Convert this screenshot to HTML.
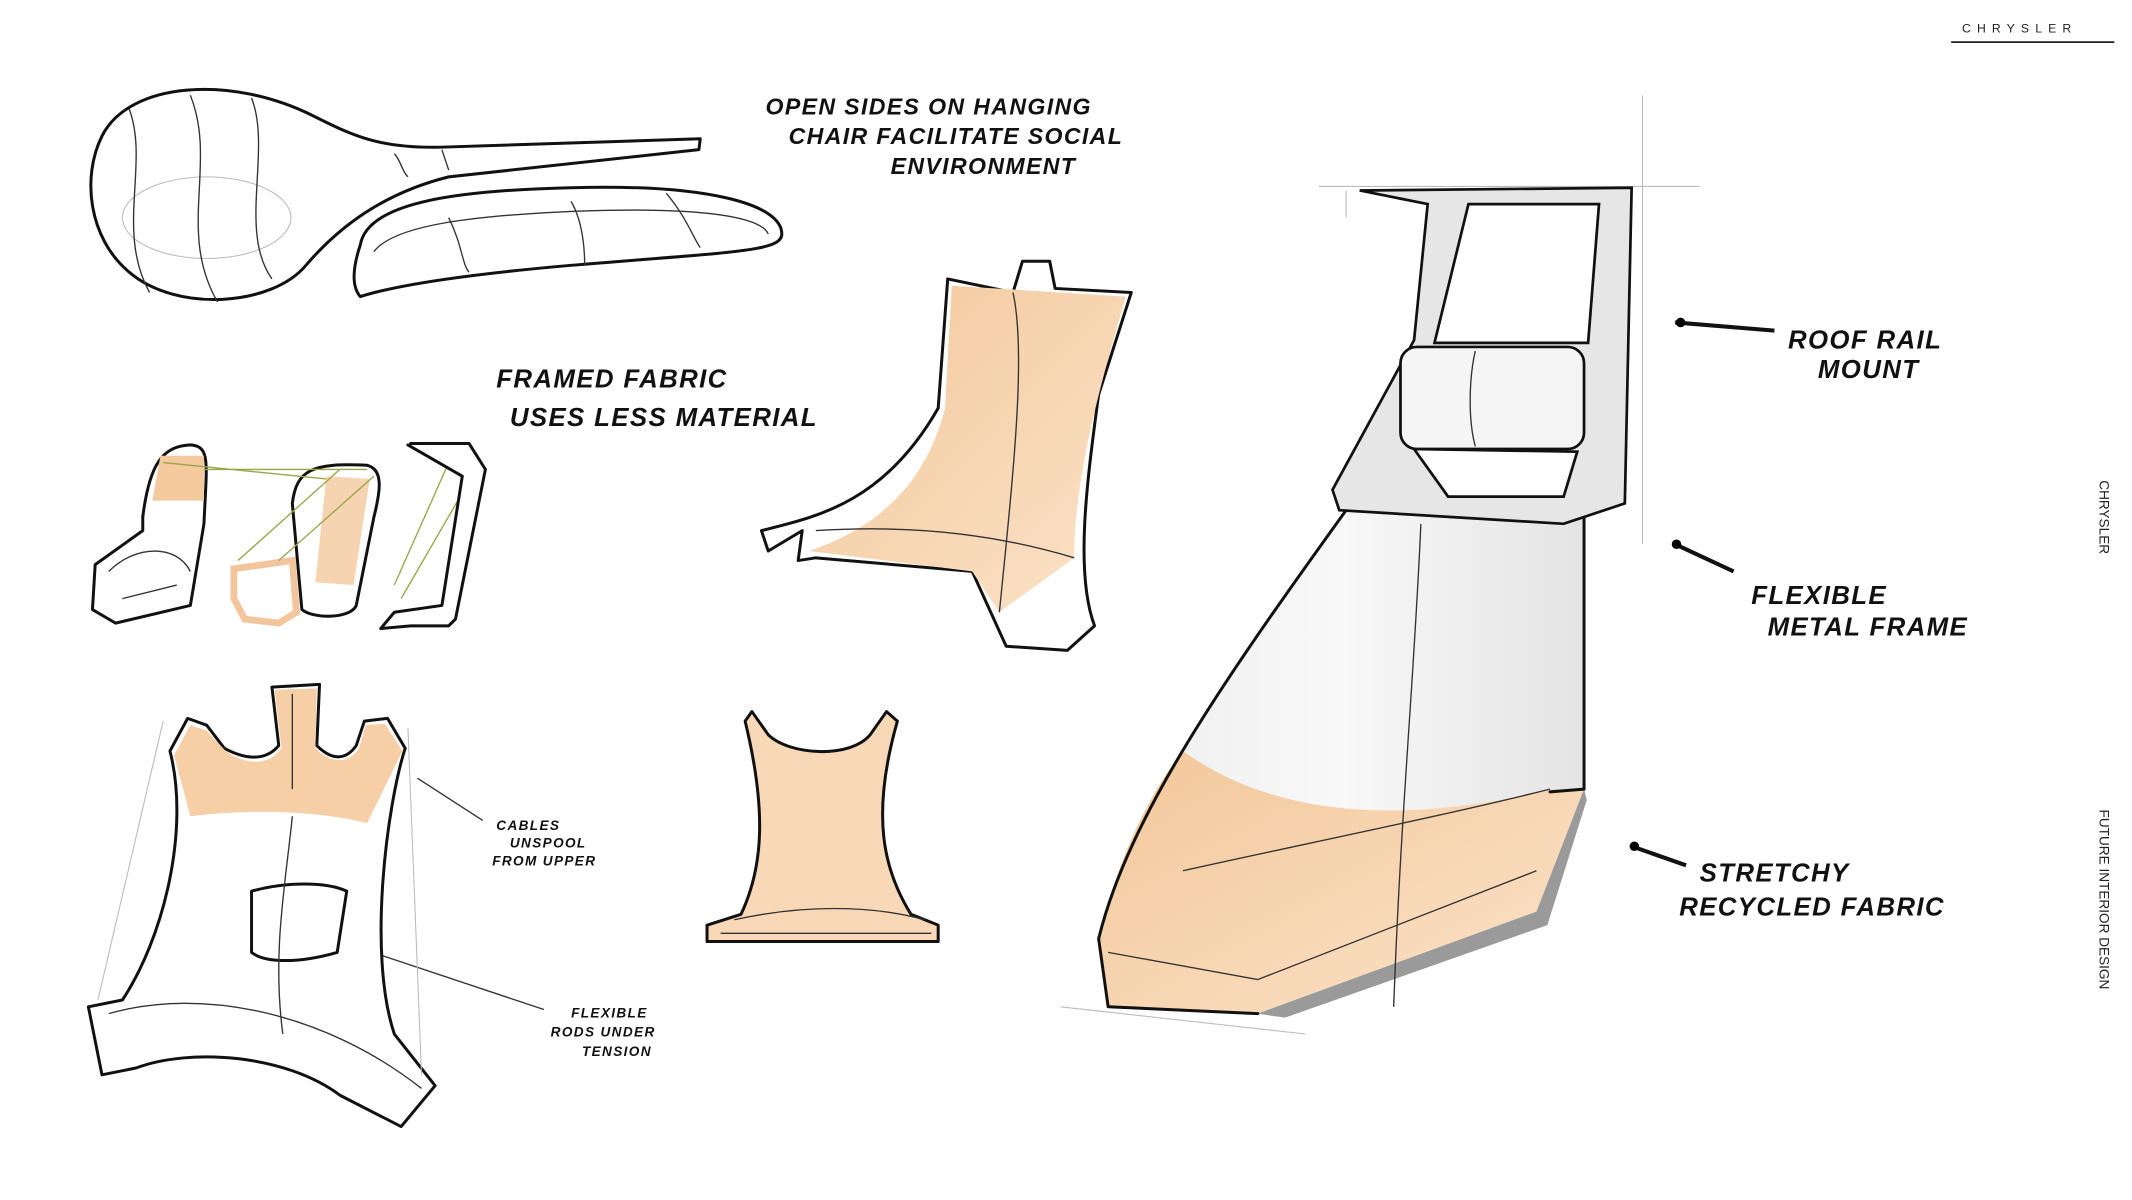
<!DOCTYPE html>
<html><head><meta charset="utf-8"><style>
html,body{margin:0;padding:0;background:#fff;width:2132px;height:1200px;overflow:hidden}
svg{display:block}
.h{font-family:"Liberation Sans",sans-serif;font-weight:bold;font-style:italic;fill:#111;letter-spacing:1px}
.s{stroke:#111;stroke-width:2.2;stroke-linejoin:round;stroke-linecap:round}
.t{fill:none;stroke:#333;stroke-width:1}
.g{fill:none;stroke:#bbb;stroke-width:0.8}
</style></head><body>
<svg width="2132" height="1200" viewBox="0 0 1568 882" preserveAspectRatio="none">
<defs>
<linearGradient id="og" x1="0" y1="0" x2="1" y2="1"><stop offset="0" stop-color="#f3c79a"/><stop offset="1" stop-color="#fbe3c9"/></linearGradient>
<linearGradient id="wg" x1="0" y1="0" x2="1" y2="0"><stop offset="0" stop-color="#eeeeee"/><stop offset="0.5" stop-color="#f8f8f8"/><stop offset="1" stop-color="#e4e4e4"/></linearGradient>
</defs>
<text x="1443" y="24" font-family="Liberation Sans" font-size="9" letter-spacing="4.5" fill="#222">CHRYSLER</text>
<line x1="1435" y1="31" x2="1555" y2="31" stroke="#222" stroke-width="1.3"/>
<text transform="translate(1544,353) rotate(90)" font-family="Liberation Sans" font-size="10" fill="#222">CHRYSLER</text>
<text transform="translate(1544,595) rotate(90)" font-family="Liberation Sans" font-size="10" fill="#222">FUTURE INTERIOR DESIGN</text>

<text class="h" x="563" y="84" font-size="17">OPEN SIDES ON HANGING</text>
<text class="h" x="580" y="106" font-size="17">CHAIR FACILITATE SOCIAL</text>
<text class="h" x="655" y="128" font-size="17">ENVIRONMENT</text>
<text class="h" x="365" y="285" font-size="19">FRAMED FABRIC</text>
<text class="h" x="375" y="313" font-size="19">USES LESS MATERIAL</text>
<text class="h" x="1315" y="256" font-size="19">ROOF RAIL</text>
<text class="h" x="1337" y="278" font-size="19">MOUNT</text>
<text class="h" x="1288" y="444" font-size="19">FLEXIBLE</text>
<text class="h" x="1300" y="467" font-size="19">METAL FRAME</text>
<text class="h" x="1250" y="648" font-size="19">STRETCHY</text>
<text class="h" x="1235" y="673" font-size="19">RECYCLED FABRIC</text>
<text class="h" x="365" y="610" font-size="10">CABLES</text>
<text class="h" x="375" y="623" font-size="10">UNSPOOL</text>
<text class="h" x="362" y="636" font-size="10">FROM UPPER</text>
<text class="h" x="420" y="748" font-size="10">FLEXIBLE</text>
<text class="h" x="405" y="762" font-size="10">RODS UNDER</text>
<text class="h" x="428" y="776" font-size="10">TENSION</text>
<path d="M1232,237 L1305,243" stroke="#111" stroke-width="3"/><circle cx="1236" cy="237" r="3.5"/>
<path d="M1232,400 L1275,420" stroke="#111" stroke-width="3"/><circle cx="1233" cy="400" r="3.5"/>
<path d="M1200,622 L1240,636" stroke="#111" stroke-width="3"/><circle cx="1202" cy="622" r="3.5"/>
<path d="M307,572 L355,603" class="t"/><path d="M280,702 L400,742" class="t"/>

<path class="s" style="fill:#fff" d="M75,100 C95,60 170,55 230,85 C260,100 280,110 330,108 L515,102 L514,110 L330,130 C290,140 255,160 225,195 C200,225 130,230 95,200 C65,175 60,130 75,100Z"/>
<ellipse cx="152" cy="160" rx="62" ry="30" class="g"/>
<path class="t" d="M95,80 C110,120 85,170 110,215 M140,70 C160,120 130,170 160,222 M185,72 C200,110 175,170 200,205 M290,113 C295,118 295,125 300,130 M325,110 L330,125"/>
<path class="s" style="fill:#fff" d="M265,180 C270,150 330,140 420,138 C520,135 575,150 575,172 C575,185 540,185 420,195 C340,202 290,210 265,218 C258,210 260,195 265,180Z"/>
<path class="t" d="M275,185 C290,165 350,158 430,155 C520,152 560,160 565,172 M330,160 C340,180 340,195 345,200 M420,148 C430,165 430,190 430,195 M490,142 C505,160 510,175 515,182"/>

<path class="s" style="fill:#fff" d="M105,380 C110,340 120,328 140,327 C155,328 152,340 150,385 L140,445 L85,458 L68,448 L70,415 L105,390Z"/>
<path d="M118,335 L150,335 L150,368 L112,368Z" fill="#f4c99e"/>
<path class="t" d="M80,420 C100,400 130,400 140,420 M90,440 L130,430"/>
<path class="s" style="fill:#fff" d="M215,370 C218,345 230,340 270,342 C282,345 280,360 275,380 L262,445 C258,455 230,455 222,448 Z"/>
<path d="M240,350 L272,352 L260,430 L232,428Z" fill="#f4c99e" opacity="0.8"/>
<path d="M172,418 L215,412 L218,450 L205,458 L180,455 L172,440Z" fill="none" stroke="#f3c59c" stroke-width="5"/>
<path stroke="#9aa64a" stroke-width="1" d="M120,340 L240,352 M150,345 L270,345 M175,412 L250,345 M205,412 L275,350 M295,440 L350,345 M290,430 L330,340"/>
<path class="s" style="fill:#fff" d="M302,326 L345,326 L357,345 L335,455 L330,460 L302,460 L280,462 L290,450 L325,445 L340,350 L300,327"/>

<path class="s" style="fill:#fff" d="M697,205 L745,215 L752,192 L772,192 L776,212 L832,215 L808,290 C800,350 790,420 805,460 L785,478 L740,475 L715,420 L600,410 L587,412 L590,390 L565,405 L560,390 C600,380 650,370 690,300 Z"/>
<path d="M700,210 L828,218 C810,280 790,350 790,410 L735,450 L715,420 L595,405 C640,390 680,360 695,300 Z" fill="url(#og)"/>
<path class="t" d="M745,215 C755,260 745,350 735,450 M600,390 C680,385 740,395 790,410"/>

<path class="s" style="fill:#f8d8b6" d="M553,523 L565,540 C580,555 625,558 640,540 L652,523 L660,530 C640,600 650,640 670,672 L690,680 L690,692 L520,692 L520,680 L545,672 C560,640 565,600 548,530Z"/>
<path class="t" d="M540,676 C590,665 640,665 680,676 M530,686 L685,686"/>

<path class="s" style="fill:#fff" d="M125,552 L138,528 L152,533 L165,550 C180,558 195,560 205,548 L200,505 L235,503 L233,548 C245,560 255,558 262,548 L268,530 L285,528 L298,550 C285,590 270,700 290,760 L320,798 L295,828 L250,805 C210,775 140,770 100,785 L75,790 L65,740 L90,735 C120,690 140,610 125,552Z"/>
<path d="M128,555 L140,533 L152,537 L166,552 C180,562 197,564 207,550 L202,507 L233,506 L232,550 C245,563 258,560 264,550 L269,533 L283,532 L296,552 L270,605 C230,595 180,595 140,600 Z" fill="#f6cfa6"/>
<path class="s" style="fill:#fff" d="M185,655 C210,648 240,648 255,655 L248,700 C220,708 195,708 185,700 Z"/>
<path class="t" d="M215,510 L215,580 M208,760 C200,700 210,650 215,600 M80,745 C150,725 240,745 310,800"/>
<path class="g" d="M72,735 L120,530 M310,790 L300,535"/>

<path class="g" d="M970,137 L1250,137 M1208,70 L1208,400 M990,140 L990,160 M780,740 L960,760"/>
<path d="M990,375 L1165,370 L1165,580 L1130,670 L925,745 L815,740 L808,690 C830,600 900,500 990,375Z" fill="url(#wg)"/>
<path d="M870,552 C950,610 1060,600 1140,580 L1165,580 L1130,670 L925,745 L815,740 L808,690 C820,640 840,590 870,552Z" fill="url(#og)"/>
<path d="M1165,580 L1130,670 L925,745 L945,748 L1138,680 L1167,588Z" fill="#9a9a9a"/>
<path class="s" style="fill:none" d="M990,375 C900,500 830,600 808,690 L815,740 L925,745 M1165,370 L1165,580 L1140,582"/>
<path class="t" d="M1045,385 C1040,500 1030,600 1025,740 M1140,580 C1060,600 960,620 870,640 M815,700 L925,720 L1130,640"/>
<path d="M1000,140 L1200,138 L1195,370 L1150,385 L985,375 L980,360 L1040,250 L1050,150 Z" fill="#e6e6e6" stroke="#111" stroke-width="2"/>
<path d="M1080,150 L1176,150 L1168,252 L1055,252 Z" fill="#fff" stroke="#111" stroke-width="2"/>
<path d="M1040,330 L1160,332 L1150,365 L1065,365 Z" fill="#fff" stroke="#111" stroke-width="2"/>
<rect x="1030" y="255" width="135" height="75" rx="12" fill="#f5f5f5" stroke="#111" stroke-width="2"/>
<path class="t" d="M1085,258 C1080,280 1080,310 1085,328"/>
</svg>
</body></html>
